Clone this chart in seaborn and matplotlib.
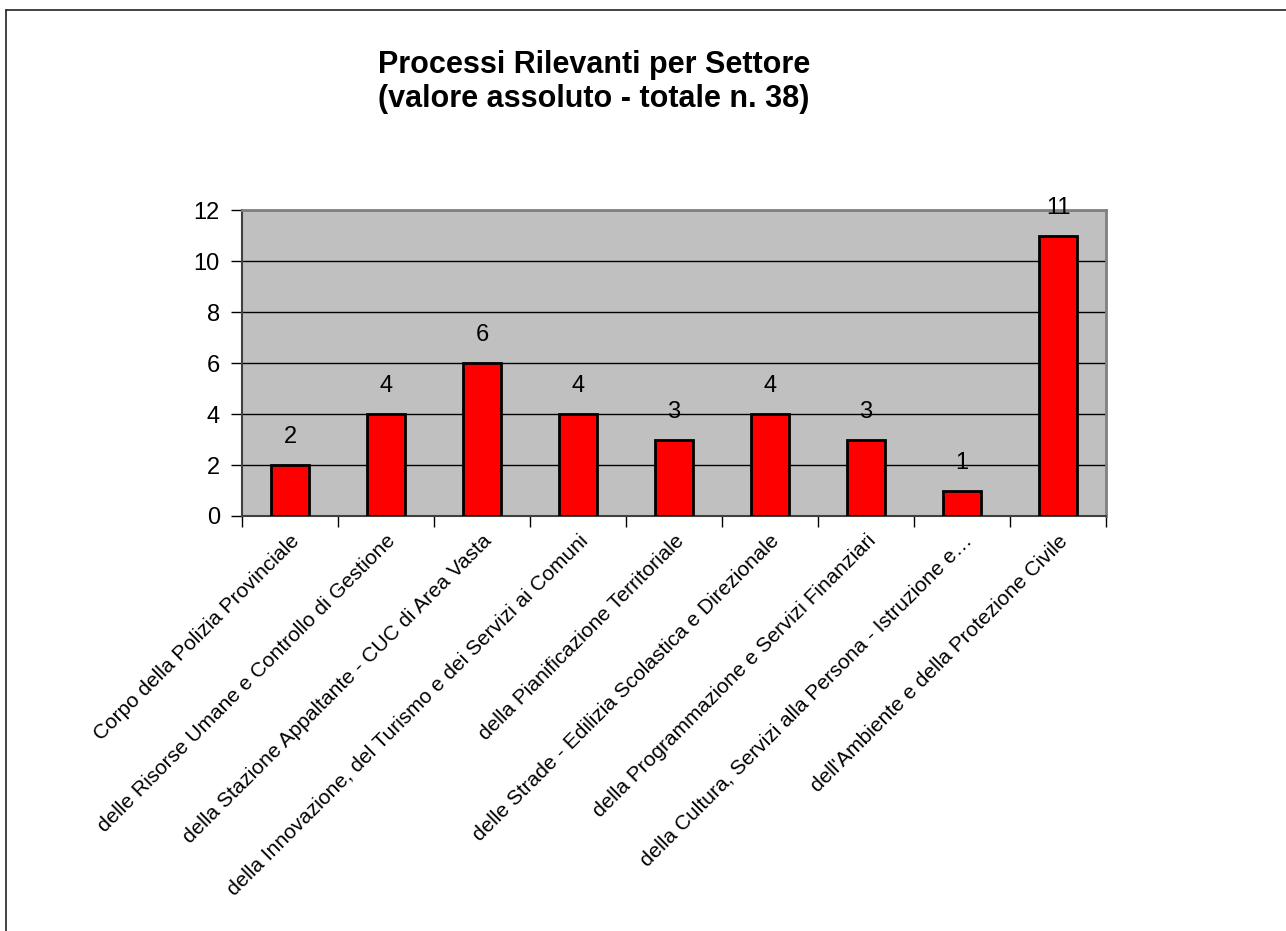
import matplotlib
matplotlib.use('Agg')
import matplotlib.pyplot as plt
import seaborn as sns
import pandas as pd
from matplotlib.lines import Line2D

# Dati del grafico
settori = [
    "Corpo della Polizia Provinciale",
    "delle Risorse Umane e Controllo di Gestione",
    "della Stazione Appaltante - CUC di Area Vasta",
    "della Innovazione, del Turismo e dei Servizi ai Comuni",
    "della Pianificazione Territoriale",
    "delle Strade - Edilizia Scolastica e Direzionale",
    "della Programmazione e Servizi Finanziari",
    "della Cultura, Servizi alla Persona - Istruzione e\u2026",
    "dell'Ambiente e della Protezione Civile",
]
processi = [2, 4, 6, 4, 3, 4, 3, 1, 11]
y_ticks = [0, 2, 4, 6, 8, 10, 12]

df = pd.DataFrame({'Settore': settori, 'Processi': processi})

sns.set_style('white')
plt.rcParams['font.family'] = ['Liberation Sans', 'DejaVu Sans']
plt.rcParams['text.color'] = 'black'
plt.rcParams['xtick.color'] = 'black'
plt.rcParams['ytick.color'] = 'black'

fig = plt.figure(figsize=(12.86, 9.31), dpi=100)
ax = fig.add_axes([242/1286, 1 - 516/931, (1106-242)/1286, (516-210)/931])
ax.set_facecolor('#C0C0C0')

sns.barplot(data=df, x='Settore', y='Processi', color='#FF0000',
            edgecolor='black', linewidth=2, width=0.4, saturation=1, ax=ax, zorder=3)

ax.set_ylim(0, 12)
ax.set_xlim(-0.5, len(settori) - 0.5)
ax.set_yticks(y_ticks)
ax.set_yticklabels([str(v) for v in y_ticks], fontsize=17)
ax.yaxis.grid(True, color='black', linewidth=1)
ax.set_axisbelow(True)
ax.tick_params(axis='y', length=8, width=1, color='black', direction='out', left=True, pad=8)

# etichette ruotate al centro, tacche tra le categorie
ax.set_xticks(range(len(settori)))
ax.set_xticklabels(settori, rotation=45, ha='right', rotation_mode='anchor', fontsize=15)
ax.tick_params(axis='x', which='major', length=0, pad=11)
ax.set_xticks([i - 0.5 for i in range(len(settori) + 1)], minor=True)
ax.tick_params(axis='x', which='minor', length=8, width=1, color='black', direction='out', bottom=True)

ax.set_xlabel('')
ax.set_ylabel('')

for s in ['top', 'right']:
    ax.spines[s].set_color('#808080')
    ax.spines[s].set_linewidth(2)
for s in ['left', 'bottom']:
    ax.spines[s].set_color('#404040')
    ax.spines[s].set_linewidth(1.5)

# valori sopra le barre
for i, v in enumerate(processi):
    ax.annotate(str(v), (i, v), xytext=(0, 12), textcoords='offset points',
                ha='center', va='bottom', fontsize=17)

fig.text(594/1286, 1 - 82/931, "Processi Rilevanti per Settore\n(valore assoluto - totale n. 38)",
         ha='center', va='center', fontsize=22, fontweight='bold', linespacing=1.15)

# cornice esterna
fig.add_artist(Line2D([6/1286, 1], [1 - 10/931, 1 - 10/931], transform=fig.transFigure,
                      color='#222222', linewidth=1.2))
fig.add_artist(Line2D([6/1286, 6/1286], [0, 1 - 10/931], transform=fig.transFigure,
                      color='#222222', linewidth=1.2))

fig.savefig('out.png', dpi=100, facecolor='white')
